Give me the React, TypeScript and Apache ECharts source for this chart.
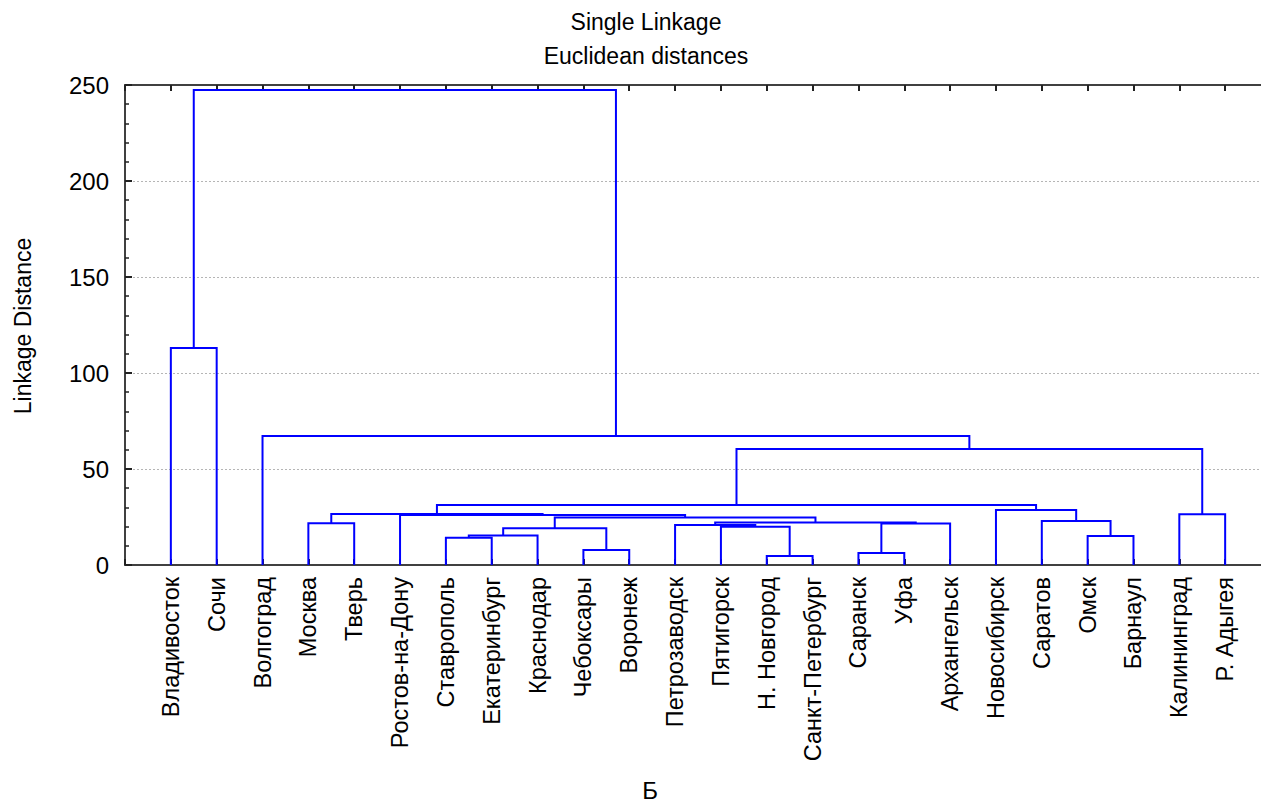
import React, { useEffect, useRef } from "react";
import * as echarts from "echarts";

const leaves = [
  "Владивосток", "Сочи", "Волгоград", "Москва", "Тверь", "Ростов-на-Дону",
  "Ставрополь", "Екатеринбург", "Краснодар", "Чебоксары", "Воронеж", "Петрозаводск",
  "Пятигорск", "Н. Новгород", "Санкт-Петербург", "Саранск", "Уфа", "Архангельск",
  "Новосибирск", "Саратов", "Омск", "Барнаул", "Калининград", "Р. Адыгея",
];

// linkage steps: node id = 24 + index; ids < 24 are leaves
const mergeLeft = [13, 15, 9, 6, 27, 20, 28, 12, 11, 25, 3, 32, 19, 30, 5, 34, 22, 18, 39, 42, 2, 0, 45];
const mergeRight = [14, 16, 10, 7, 8, 21, 26, 24, 31, 17, 4, 33, 29, 35, 37, 38, 23, 36, 41, 40, 43, 1, 44];
const mergeHeight = [4.7, 6.2, 7.8, 14.2, 15.3, 15.1, 19.1, 19.9, 20.8, 21.6, 21.7, 22.1, 22.9, 24.7, 26.0, 26.6, 26.4, 28.6, 31.2, 60.4, 67.2, 113, 247.4];

const yTicks = [0, 50, 100, 150, 200, 250];

const FONT = '"Liberation Sans", Arial, sans-serif';

export default function App() {
  const ref = useRef<HTMLDivElement>(null);
  useEffect(() => {
    if (!ref.current) return;
    const chart = echarts.init(ref.current, null, { renderer: "svg" });

    const pos: number[] = leaves.map((_, i) => i + 1);
    const hgt: number[] = leaves.map(() => 0);
    const segs: number[][] = [];
    mergeLeft.forEach((l, k) => {
      const r = mergeRight[k];
      const H = mergeHeight[k];
      segs.push([pos[l], hgt[l], pos[r], hgt[r], H]);
      pos.push((pos[l] + pos[r]) / 2);
      hgt.push(H);
    });

    const axisColor = "#404040";
    const xCommon = {
      type: "value" as const,
      min: 0,
      max: leaves.length + 1,
      interval: 1,
      splitLine: { show: false },
      axisLine: { show: true, onZero: false, lineStyle: { color: axisColor, width: 2 } },
      axisTick: { show: true, inside: true, length: 6, lineStyle: { color: "#222", width: 2 } },
    };

    chart.setOption({
      animation: false,
      grid: { left: 125, right: 0, top: 85, bottom: 238, containLabel: false },
      xAxis: [
        {
          ...xCommon,
          position: "bottom",
          axisLabel: {
            rotate: 90,
            margin: 12,
            color: "#000",
            fontFamily: FONT,
            fontSize: 23.5,
            formatter: (v: number) =>
              Number.isInteger(v) && v >= 1 && v <= leaves.length ? leaves[v - 1] : "",
          },
        },
        {
          ...xCommon,
          position: "top",
          axisLabel: { show: false },
        },
      ],
      yAxis: {
        type: "value",
        min: yTicks[0],
        max: yTicks[yTicks.length - 1],
        interval: yTicks[1] - yTicks[0],
        axisLine: { show: true, lineStyle: { color: axisColor, width: 2 } },
        axisTick: { show: true, inside: true, length: 7, lineStyle: { color: "#222", width: 2 } },
        minorTick: { show: true, splitNumber: 5, length: 4, lineStyle: { color: "#222", width: 1.5 } },
        splitLine: { show: true, lineStyle: { color: "#b5b5b5", width: 1, type: [2, 2] } },
        axisLabel: { color: "#000", fontFamily: FONT, fontSize: 24, margin: 16 },
      },
      graphic: [
        {
          type: "text", x: 646, y: 22,
          style: { text: "Single Linkage", font: `23px ${FONT}`, fill: "#000", textAlign: "center", textVerticalAlign: "middle" },
        },
        {
          type: "text", x: 646, y: 56,
          style: { text: "Euclidean distances", font: `23px ${FONT}`, fill: "#000", textAlign: "center", textVerticalAlign: "middle" },
        },
        {
          type: "text", x: 23, y: 326, rotation: Math.PI / 2,
          style: { text: "Linkage Distance", font: `23px ${FONT}`, fill: "#000", textAlign: "center", textVerticalAlign: "middle" },
        },
        {
          type: "text", x: 650, y: 790,
          style: { text: "Б", font: `24px ${FONT}`, fill: "#000", textAlign: "center", textVerticalAlign: "middle" },
        },
      ],
      series: [
        {
          type: "custom",
          xAxisIndex: 0,
          yAxisIndex: 0,
          data: segs,
          encode: { x: [0, 2], y: [1, 3, 4] },
          renderItem: (_params: any, api: any) => {
            const xl = api.value(0), hl = api.value(1), xr = api.value(2), hr = api.value(3), H = api.value(4);
            const pts = [
              api.coord([xl, hl]),
              api.coord([xl, H]),
              api.coord([xr, H]),
              api.coord([xr, hr]),
            ];
            return {
              type: "polyline",
              shape: { points: pts },
              style: { stroke: "#0000ff", lineWidth: 2, fill: null },
            };
          },
          z: 5,
        },
      ],
    });
    return () => chart.dispose();
  }, []);
  return (
    <div style={{ position: "fixed", left: 0, top: 0, width: 1261, height: 803, overflow: "hidden", background: "#fff" }}>
      <div ref={ref} style={{ width: 1271, height: 803 }} />
    </div>
  );
}
